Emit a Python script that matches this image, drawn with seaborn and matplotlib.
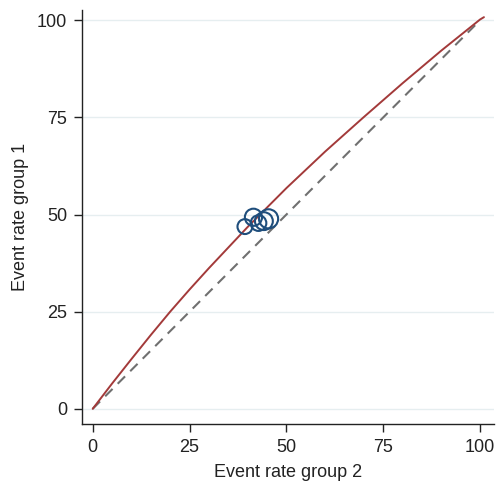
import numpy as np
import pandas as pd
import matplotlib
matplotlib.use("Agg")
import matplotlib.pyplot as plt
import seaborn as sns

# curve (event rate group 2 -> group 1)
curve_x = [0, 5, 10, 15, 20, 25, 30, 40, 50, 60, 70, 80, 90, 100, 101]
curve_y = [0, 6.5, 12.8, 19.0, 25.0, 30.7, 36.2, 46.8, 56.8, 66.2, 75.1, 83.8, 92.2, 100.2, 100.8]

# line of equality
diag_x = [0, 100]
diag_y = [0, 100]

# study points (bubbles)
pt_x = [39.3, 41.5, 42.8, 44.2, 45.4]
pt_y = [46.9, 49.3, 47.8, 48.3, 48.9]
pt_w = [90, 120, 100, 130, 150]

yticks = [0, 25, 50, 75, 100]
xticks = [0, 25, 50, 75, 100]

sns.set_style("ticks")
plt.rcParams['font.family'] = ['Liberation Sans', 'DejaVu Sans']

fig = plt.figure(figsize=(4.96, 4.84), dpi=100)
ax = fig.add_axes([0.165, 0.124, 0.831, 0.855])

for t in yticks:
    ax.axhline(t, color="#e6eef0", lw=1.0, zorder=0)

sns.lineplot(x=diag_x, y=diag_y, ax=ax, color="#707070", lw=1.5,
             linestyle=(0, (5, 3.5)), zorder=2)
sns.lineplot(x=curve_x, y=curve_y, ax=ax, color="#a33a3a", lw=1.4, zorder=3)

df = pd.DataFrame({"x": pt_x, "y": pt_y, "w": pt_w})
sns.scatterplot(data=df, x="x", y="y", size="w", sizes=(115, 190), ax=ax,
                facecolors="none", edgecolor="#1f4e7c", linewidth=1.5,
                legend=False, zorder=4)

ax.set_xlim(-2.8, 103.6)
ax.set_ylim(-3.9, 102.6)
ax.set_xticks(xticks)
ax.set_yticks(yticks)
ax.tick_params(labelsize=13, length=5.5, width=1.0, pad=5, colors="#222222")
ax.set_xlabel("Event rate group 2", fontsize=13, color="#222222", labelpad=6)
ax.set_ylabel("Event rate group 1", fontsize=13, color="#222222", labelpad=6)
for s in ["top", "right"]:
    ax.spines[s].set_visible(False)
for s in ["left", "bottom"]:
    ax.spines[s].set_color("#222222")
    ax.spines[s].set_linewidth(1.0)

fig.savefig("out.png", dpi=100)
